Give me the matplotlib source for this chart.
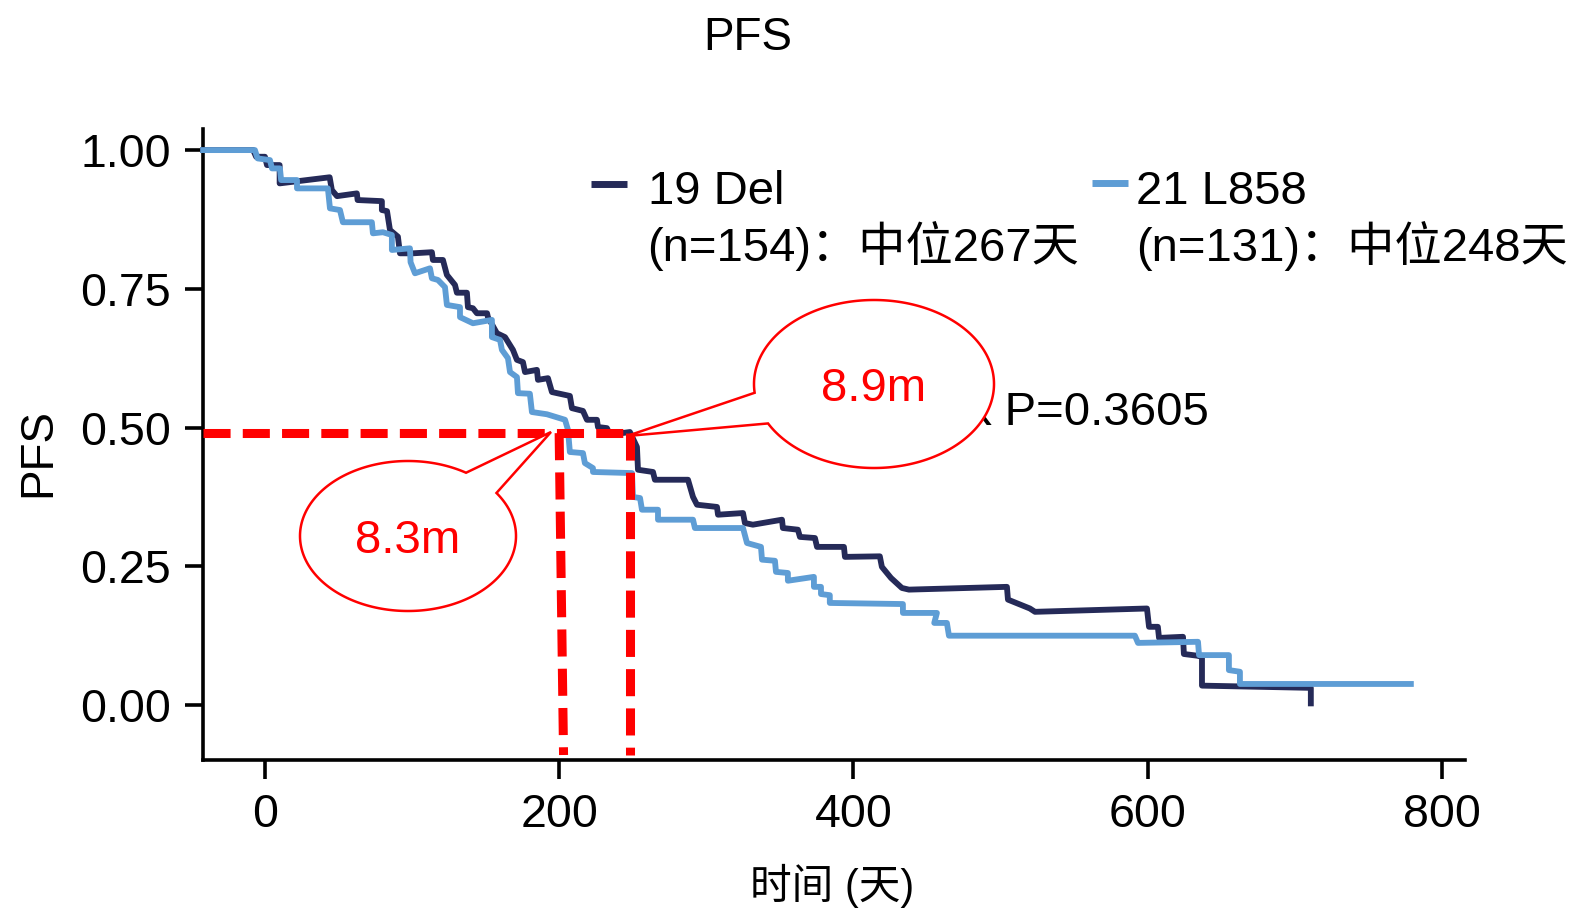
import numpy as np
import matplotlib
matplotlib.use('Agg')
import matplotlib.pyplot as plt
from matplotlib.patches import Polygon
from matplotlib.lines import Line2D

plt.rcParams['font.family'] = ['Liberation Sans', 'Noto Sans CJK SC']

# ---------------- data ----------------
del19_days = [-42, -8, -6, 0, 1.4, 10, 10, 44, 45.5, 49,
              62.5, 63, 79.5, 79.5, 83, 85, 90.4, 91.8, 100.6, 113.5,
              114.2, 121, 123.7, 129.2, 130.5, 137.3, 138, 141.4, 144.1, 151,
              151.6, 157.7, 163.2, 168.6, 171.3, 175.4, 176.8, 184.9, 185.6, 192.4,
              195.1, 207.3, 208.7, 216.2, 218.9, 225.7, 226.4, 232.5, 234.5, 248.1,
              252.9, 253.6, 263.8, 265.1, 287.6, 291, 293.7, 307.3, 308, 325,
              326.3, 331.7, 351.5, 352.1, 362.3, 363.7, 373.9, 375.3, 393.6, 394.3,
              418, 419.4, 425.6, 433, 437.8, 504.4, 505.1, 520, 523.5, 599.6,
              601, 607, 607.8, 624.1, 624.7, 633.6, 637, 637, 711, 711]
del19_pfs = [1.0, 1.0, 0.988, 0.988, 0.973, 0.973, 0.94, 0.951, 0.928, 0.917,
             0.922, 0.91, 0.908, 0.892, 0.89, 0.856, 0.844, 0.814, 0.814, 0.816,
             0.802, 0.802, 0.775, 0.757, 0.743, 0.743, 0.717, 0.715, 0.706, 0.706,
             0.699, 0.67, 0.663, 0.64, 0.622, 0.618, 0.6, 0.604, 0.586, 0.589,
             0.564, 0.557, 0.535, 0.53, 0.514, 0.514, 0.501, 0.499, 0.487, 0.492,
             0.465, 0.424, 0.42, 0.406, 0.406, 0.375, 0.361, 0.357, 0.343, 0.346,
             0.328, 0.325, 0.334, 0.319, 0.316, 0.303, 0.301, 0.285, 0.285, 0.267,
             0.268, 0.249, 0.229, 0.211, 0.208, 0.213, 0.19, 0.174, 0.168, 0.174,
             0.141, 0.141, 0.121, 0.123, 0.092, 0.089, 0.087, 0.035, 0.031, 0.003]

l858_days = [-42, -6.8, -5, 3.4, 4.8, 10.2, 11, 21.8, 21.8, 42.8,
             44.2, 51, 53, 72.7, 73.4, 80.2, 86.3, 86.3, 98.6, 99,
             102, 112.2, 113.5, 117.6, 122.4, 123.7, 132.6, 132.6, 141.4, 154.3,
             154.3, 159.8, 161.1, 165.2, 166.6, 171.3, 172, 180.1, 181.5, 191.7,
             204, 206, 207.3, 216.2, 217.5, 223, 223, 249.5, 250.2, 255,
             256.3, 267.2, 267.2, 291, 292.3, 325, 327.7, 337.2, 337.9, 346.7,
             347.4, 355.5, 355.5, 373.2, 373.2, 378, 378, 384, 384, 433.7,
             433.7, 456.8, 455, 463.6, 465, 591.4, 593.5, 634.3, 635, 655.3,
             655.3, 662.8, 662.8, 779]
l858_pfs = [1.0, 1.0, 0.985, 0.982, 0.967, 0.967, 0.946, 0.946, 0.931, 0.931,
            0.895, 0.892, 0.87, 0.87, 0.85, 0.852, 0.847, 0.82, 0.823, 0.798,
            0.778, 0.787, 0.769, 0.766, 0.753, 0.721, 0.717, 0.699, 0.688, 0.694,
            0.663, 0.658, 0.64, 0.625, 0.6, 0.591, 0.562, 0.561, 0.528, 0.524,
            0.514, 0.496, 0.456, 0.454, 0.436, 0.427, 0.42, 0.418, 0.375, 0.373,
            0.352, 0.352, 0.334, 0.334, 0.319, 0.319, 0.292, 0.285, 0.262, 0.26,
            0.24, 0.238, 0.224, 0.231, 0.213, 0.213, 0.2, 0.198, 0.184, 0.182,
            0.166, 0.166, 0.148, 0.148, 0.125, 0.125, 0.112, 0.114, 0.09, 0.09,
            0.063, 0.06, 0.038, 0.038]

guide_y = 0.49
guide1_x = [200, 203]
guide2_x = [248, 248]

x_ticks = [0, 200, 400, 600, 800]
y_ticks = [0.0, 0.25, 0.5, 0.75, 1.0]
y_ticklabels = ['0.00', '0.25', '0.50', '0.75', '1.00']

label_del19 = ['19 Del', '(n=154)：中位267天']
label_l858 = ['21 L858', '(n=131)：中位248天']
pvalue_text = 'k P=0.3605'   # visible tail of the (partly covered) log-rank label

NAVY = '#252A58'
BLUE = '#5E9DD5'
RED = '#FF0000'

# ---------------- figure ----------------
W, H = 1579, 909
fig = plt.figure(figsize=(W / 100, H / 100), dpi=100)
fig.patch.set_facecolor('white')

def fx(px):
    return px / W

def fy(py):
    return 1 - py / H

ax = fig.add_axes([fx(203), fy(760), (1465 - 203) / W, (760 - 129) / H])
ax.set_xlim(-42.1, 815.8)
ax.set_ylim(-0.099, 1.038)
for s in ['top', 'right']:
    ax.spines[s].set_visible(False)
for s in ['left', 'bottom']:
    ax.spines[s].set_linewidth(2.6)
ax.set_xticks(x_ticks)
ax.set_xticklabels([str(v) for v in x_ticks])
ax.set_yticks(y_ticks)
ax.set_yticklabels(y_ticklabels)
ax.tick_params(axis='x', length=14, width=2.6, pad=10, labelsize=33.5)
ax.tick_params(axis='y', length=13, width=2.6, pad=10, labelsize=33.5)

ax.plot(del19_days, del19_pfs, color=NAVY, lw=4.2, zorder=3, clip_on=False)
ax.plot(l858_days, l858_pfs, color=BLUE, lw=4.2, zorder=4, clip_on=False)

dash = dict(color=RED, lw=6.5, dashes=(3.0, 1.35), zorder=5, clip_on=False)
ax.plot([-42.1, guide2_x[0]], [guide_y, guide_y], **dash)
ax.plot(guide1_x, [guide_y, -0.09], **dash)
ax.plot(guide2_x, [guide_y, -0.09], **dash)

# texts
fig.text(fx(748), fy(50), 'PFS', fontsize=33, ha='center', va='baseline')
fig.text(fx(50), fy(453), 'PFS', fontsize=33, ha='center', va='baseline',
         rotation=90, rotation_mode='anchor')
fig.text(fx(832), fy(899), '时间 (天)', fontsize=30, ha='center', va='baseline')

# legend
fig.add_artist(Line2D([fx(591), fx(627)], [fy(184), fy(184)], color=NAVY, lw=5,
                      solid_capstyle='butt'))
fig.add_artist(Line2D([fx(1092), fx(1128)], [fy(183), fy(183)], color=BLUE, lw=5,
                      solid_capstyle='butt'))
fig.text(fx(648), fy(204), label_del19[0], fontsize=34, ha='left', va='baseline')
fig.text(fx(647), fy(261), label_del19[1], fontsize=34, ha='left', va='baseline')
fig.text(fx(1136), fy(204), label_l858[0], fontsize=34, ha='left', va='baseline')
fig.text(fx(1136), fy(261), label_l858[1], fontsize=34, ha='left', va='baseline')

fig.text(fx(1209), fy(425), pvalue_text, fontsize=34, ha='right', va='baseline', zorder=4)

# callouts
def callout(cx, cy, a, b, t1, t2, tip, text):
    ts = np.radians(np.linspace(t1, t2, 300))
    xs = cx + a * np.cos(ts)
    ys = cy + b * np.sin(ts)
    xs = np.append(xs, tip[0])
    ys = np.append(ys, tip[1])
    pts = np.column_stack([fx(xs), fy(ys)])
    poly = Polygon(pts, closed=True, transform=fig.transFigure, facecolor='white',
                   edgecolor=RED, lw=1.8, zorder=6)
    fig.add_artist(poly)
    fig.text(fx(cx), fy(cy + 17), text, color=RED, fontsize=34, ha='center',
             va='baseline', zorder=7)

callout(874, 384, 120, 84, 174, 512, (627, 436), '8.9m')
callout(408, 536, 108, 75, 325, 662.5, (551, 432), '8.3m')

fig.savefig('out.png', dpi=100)
